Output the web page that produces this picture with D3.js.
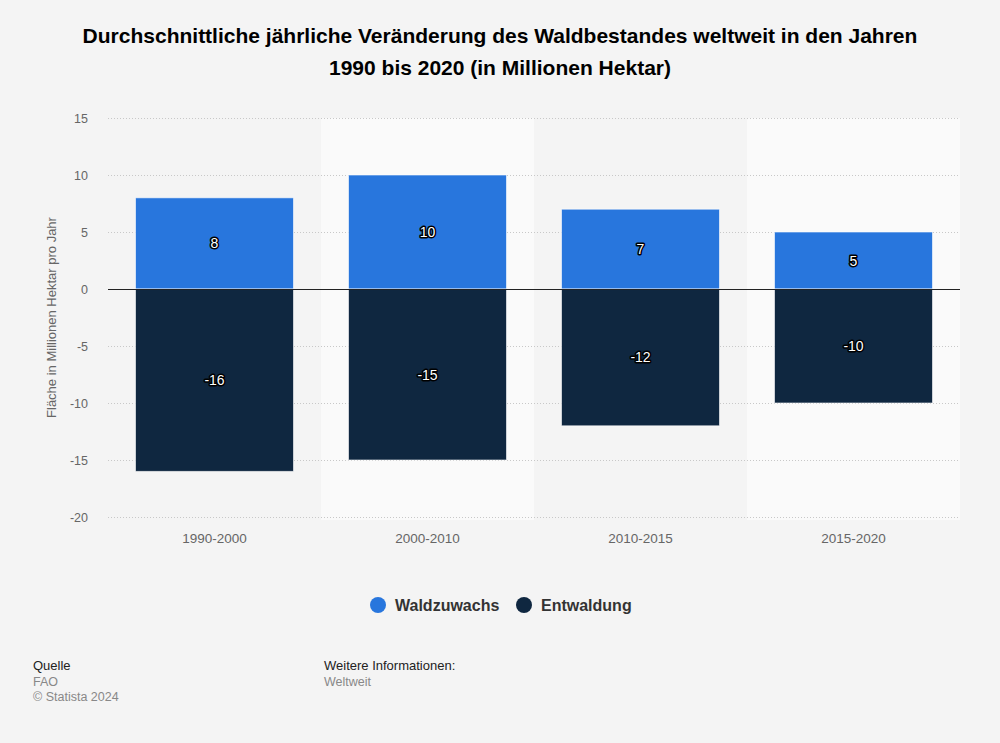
<!DOCTYPE html>
<html><head><meta charset="utf-8">
<script src="https://cdn.jsdelivr.net/npm/d3@7"></script>
<style>body{margin:0;background:#f4f4f4;font-family:"Liberation Sans",Arial,sans-serif}</style>
</head><body><svg id="c" width="1000" height="743"></svg>
<script>
const categories = ["1990-2000","2000-2010","2010-2015","2015-2020"];
const waldzuwachs = [8,10,7,5];
const entwaldung = [-16,-15,-12,-10];
const yTicks = [15,10,5,0,-5,-10,-15,-20];
const seriesNames = ["Waldzuwachs","Entwaldung"];
const colors = ["#2876dd","#0f2740"];

const svg = d3.select("#c");
svg.append("rect").attr("width",1000).attr("height",743).attr("fill","#f4f4f4");
const L=108,R=960;
const x = d3.scaleBand().domain(categories).range([L,R]).paddingInner(0).paddingOuter(0);
const y = d3.scaleLinear().domain([-20,15]).range([517,118]);

svg.selectAll("rect.band").data(categories).enter().append("rect")
  .attr("x",d=>x(d)).attr("width",x.bandwidth()).attr("y",y(15)).attr("height",y(-20)-y(15)+3)
  .attr("fill",(d,i)=>i%2===1?"#fafafa":"#f4f4f4");

svg.selectAll("line.grid").data(yTicks).enter().append("line")
  .attr("x1",L).attr("x2",R).attr("y1",d=>y(d)+0.5).attr("y2",d=>y(d)+0.5)
  .attr("stroke","#c8c8c8").attr("stroke-dasharray","1,2").attr("stroke-width",1);

svg.selectAll("text.yt").data(yTicks).enter().append("text")
  .attr("x",88).attr("y",d=>y(d)+4.5).attr("text-anchor","end")
  .attr("font-size",12.5).attr("fill","#666").text(d=>d);

svg.append("text").attr("transform",`translate(56,${(118+517)/2}) rotate(-90)`)
  .attr("text-anchor","middle").attr("font-size",13).attr("fill","#666")
  .text("Fläche in Millionen Hektar pro Jahr");

const pad = 27.5;
const bw = x.bandwidth()-2*pad;
function bars(vals,color){
  svg.selectAll(null).data(vals).enter().append("rect")
    .attr("x",(d,i)=>x(categories[i])+pad).attr("width",bw)
    .attr("y",d=>y(Math.max(0,d))).attr("height",d=>Math.abs(y(d)-y(0)))
    .attr("fill",color).attr("stroke","#fff").attr("stroke-opacity",0.6).attr("stroke-width",1);
}
bars(waldzuwachs,colors[0]);
bars(entwaldung,colors[1]);

svg.append("line").attr("x1",L).attr("x2",R).attr("y1",y(0)+0.5).attr("y2",y(0)+0.5)
  .attr("stroke","#222").attr("stroke-width",1.2);

function labels(vals){
  svg.selectAll(null).data(vals).enter().append("text")
    .attr("x",(d,i)=>x(categories[i])+x.bandwidth()/2)
    .attr("y",d=>(y(d)+y(0))/2+5)
    .attr("text-anchor","middle").attr("font-size",14)
    .attr("fill","#fff").attr("stroke","#000").attr("stroke-width",3)
    .attr("stroke-linejoin","round").attr("paint-order","stroke")
    .text(d=>d);
}
labels(waldzuwachs);
labels(entwaldung);

svg.selectAll("text.xl").data(categories).enter().append("text")
  .attr("x",d=>x(d)+x.bandwidth()/2).attr("y",543).attr("text-anchor","middle")
  .attr("font-size",13.5).attr("fill","#666").text(d=>d);

const title = ["Durchschnittliche jährliche Veränderung des Waldbestandes weltweit in den Jahren","1990 bis 2020 (in Millionen Hektar)"];
svg.selectAll("text.t").data(title).enter().append("text")
  .attr("x",500).attr("y",(d,i)=>43+i*32).attr("text-anchor","middle")
  .attr("font-size",21).attr("font-weight","bold").attr("fill","#000").text(d=>d);

const leg = [{n:seriesNames[0],c:colors[0],x:378},{n:seriesNames[1],c:colors[1],x:524}];
leg.forEach(l=>{
  svg.append("circle").attr("cx",l.x).attr("cy",605).attr("r",8).attr("fill",l.c);
  svg.append("text").attr("x",l.x+17).attr("y",611).attr("font-size",16).attr("font-weight","bold")
    .attr("fill","#333").text(l.n);
});

svg.append("text").attr("x",33).attr("y",670).attr("font-size",13).attr("fill","#222").text("Quelle");
svg.append("text").attr("x",33).attr("y",686).attr("font-size",12.5).attr("fill","#888").text("FAO");
svg.append("text").attr("x",33).attr("y",701).attr("font-size",12.5).attr("fill","#888").text("© Statista 2024");
svg.append("text").attr("x",324).attr("y",670).attr("font-size",13).attr("fill","#222").text("Weitere Informationen:");
svg.append("text").attr("x",324).attr("y",686).attr("font-size",12.5).attr("fill","#888").text("Weltweit");
</script></body></html>
